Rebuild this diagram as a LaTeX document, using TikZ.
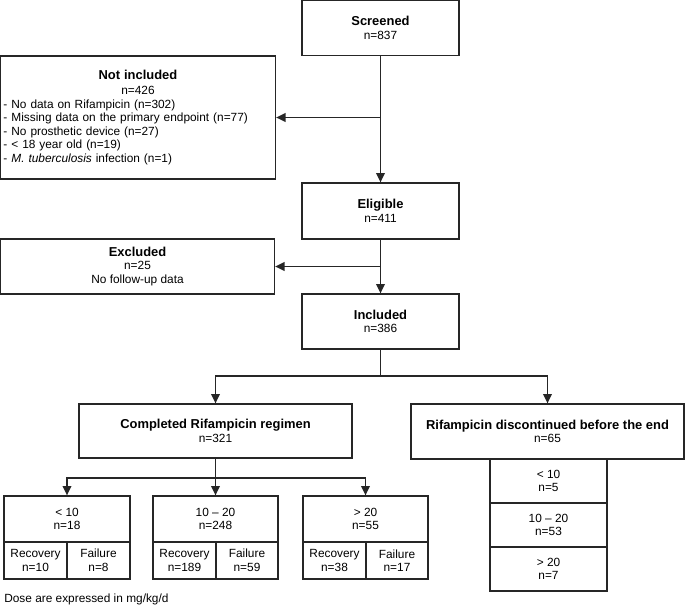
\documentclass[tikz,border=0pt]{standalone}
\usepackage{fontspec}
\setmainfont{Liberation Sans}
\usetikzlibrary{arrows.meta}
\begin{document}
\begin{tikzpicture}[x=0.75pt,y=-0.75pt,
  box/.style={draw=black!85,line width=1pt,inner sep=0pt,align=center,
    font=\fontsize{8.9}{10.2}\selectfont},
  arr/.style={draw=black!85,line width=1pt,-{Triangle[length=7pt,width=6.5pt]}},
  ln/.style={draw=black!85,line width=1pt}]
\useasboundingbox (0,0) rectangle (685,608);
\newcommand{\ttl}[1]{{\fontsize{9.7}{12}\selectfont\bfseries #1}}
% main column
\node[box,minimum width=157*0.75pt,minimum height=55*0.75pt] (scr) at (380.5,28) {\ttl{Screened}\\n=837};
\node[box,minimum width=157*0.75pt,minimum height=56*0.75pt] (eli) at (380.5,211) {\ttl{Eligible}\\n=411};
\node[box,minimum width=157*0.75pt,minimum height=55*0.75pt] (inc) at (380.5,321.5) {\ttl{Included}\\n=386};
% not included
\node[box,minimum width=275*0.75pt,minimum height=123*0.75pt,text width=269*0.75pt,align=left] (notinc) at (138,117.5)
 {\centering\ttl{Not included}\\[1pt]n=426\par\raggedright
  - No data on Rifampicin (n=302)\\
  - Missing data on the primary endpoint (n=77)\\
  - No prosthetic device (n=27)\\
  - < 18 year old (n=19)\\
  - \textit{M. tuberculosis} infection (n=1)\par};
\node[box,minimum width=274*0.75pt,minimum height=55*0.75pt] (exc) at (137.5,266.5)
 {\ttl{Excluded}\\n=25\\No follow-up data};
% second level
\node[box,minimum width=273*0.75pt,minimum height=54*0.75pt] (comp) at (215.5,431) {\ttl{Completed Rifampicin regimen}\\n=321};
\node[box,minimum width=273*0.75pt,minimum height=55*0.75pt] (disc) at (547.5,431.5) {\ttl{Rifampicin discontinued before the end}\\n=65};
% discontinued sub-boxes
\node[box,minimum width=117*0.75pt,minimum height=44*0.75pt] (d1) at (548.5,481) {< 10\\n=5};
\node[box,minimum width=117*0.75pt,minimum height=44*0.75pt] (d2) at (548.5,525) {10 -- 20\\n=53};
\node[box,minimum width=117*0.75pt,minimum height=44*0.75pt] (d3) at (548.5,569) {> 20\\n=7};
% completed dose boxes
\node[box,minimum width=126*0.75pt,minimum height=46*0.75pt] (a) at (67,519) {< 10\\n=18};
\node[box,minimum width=63*0.75pt,minimum height=37*0.75pt] (ar) at (35.5,560.5) {Recovery\\n=10};
\node[box,minimum width=63*0.75pt,minimum height=37*0.75pt] (af) at (98.5,560.5) {Failure\\n=8};
\node[box,minimum width=125*0.75pt,minimum height=46*0.75pt] (b) at (215.5,519) {10 -- 20\\n=248};
\node[box,minimum width=63*0.75pt,minimum height=37*0.75pt] (br) at (184.5,560.5) {Recovery\\n=189};
\node[box,minimum width=62*0.75pt,minimum height=37*0.75pt] (bf) at (247,560.5) {Failure\\n=59};
\node[box,minimum width=125*0.75pt,minimum height=46*0.75pt] (c) at (365.5,519) {> 20\\n=55};
\node[box,minimum width=63*0.75pt,minimum height=37*0.75pt] (cr) at (334.5,560.5) {Recovery\\n=38};
\node[box,minimum width=62*0.75pt,minimum height=37*0.75pt] (cf) at (397,560.5) {Failure\\n=17};
% footnote
\node[anchor=west,inner sep=0pt,font=\fontsize{8.9}{10}\selectfont] (note) at (4,599) {Dose are expressed in mg/kg/d};
% connectors
\coordinate (j1) at (380.5,117.5);
\coordinate (j2) at (380.5,266.5);
\coordinate (j3) at (380.5,376);
\coordinate (j4) at (215.5,478);
\draw[arr] (scr.south) -- (eli.north);
\draw[arr] (j1) -- (notinc.east);
\draw[arr] (eli.south) -- (inc.north);
\draw[arr] (j2) -- (exc.east);
\draw[ln] (inc.south) -- (j3);
\draw[arr] (j3) -| (comp.north);
\draw[arr] (j3) -| (disc.north);
\draw[ln] (comp.south) -- (j4);
\draw[arr] (j4) -| (a.north);
\draw[arr] (j4) -- (b.north);
\draw[arr] (j4) -| (c.north);
\end{tikzpicture}
\end{document}
